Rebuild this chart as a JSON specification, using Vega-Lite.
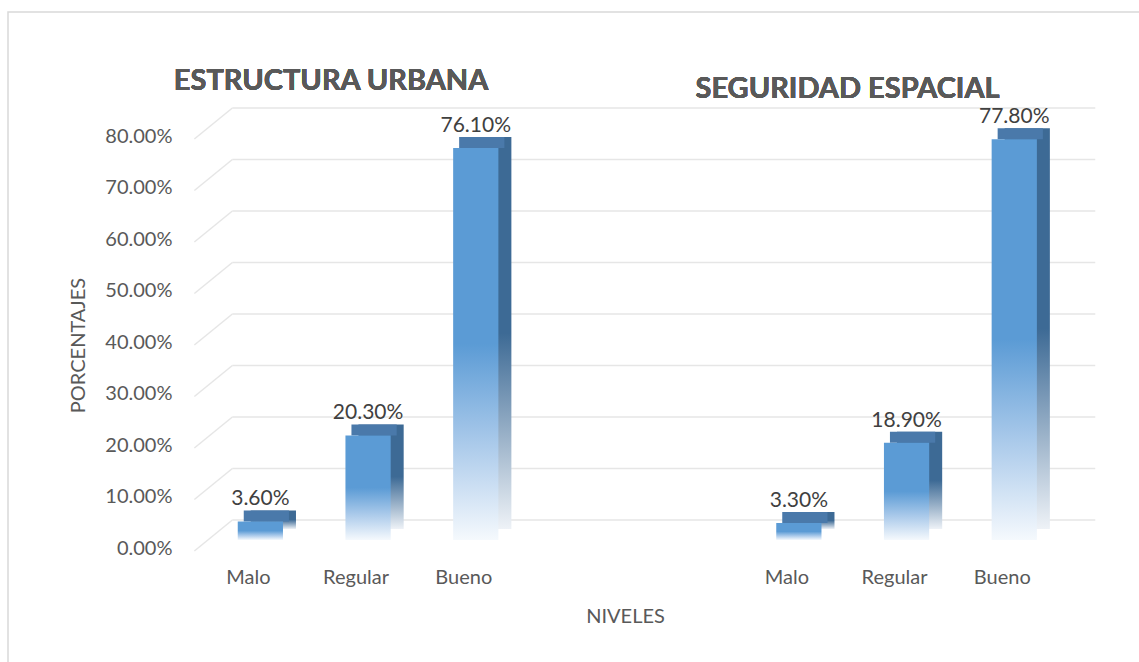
{
  "$schema": "https://vega.github.io/schema/vega-lite/v6.json",
  "width": 1200,
  "height": 700,
  "autosize": "none",
  "padding": {"left": 8, "top": 12, "right": 0, "bottom": 0},
  "background": "white",
  "config": {"font": "Lato", "view": {"stroke": "#D9D9D9", "strokeWidth": 1.5}},
  "data": {
    "values": [
      {"grupo": "ESTRUCTURA URBANA", "nivel": "Malo", "slot": "Malo|E", "v": 0.036},
      {"grupo": "ESTRUCTURA URBANA", "nivel": "Regular", "slot": "Regular|E", "v": 0.203},
      {"grupo": "ESTRUCTURA URBANA", "nivel": "Bueno", "slot": "Bueno|E", "v": 0.761},
      {"grupo": "SEGURIDAD ESPACIAL", "nivel": "Malo", "slot": "Malo|S", "v": 0.033},
      {"grupo": "SEGURIDAD ESPACIAL", "nivel": "Regular", "slot": "Regular|S", "v": 0.189},
      {"grupo": "SEGURIDAD ESPACIAL", "nivel": "Bueno", "slot": "Bueno|S", "v": 0.778}
    ]
  },
  "encoding": {
    "x": {
      "field": "slot",
      "type": "nominal",
      "sort": null,
      "scale": {
        "domain": ["Malo|E", "Regular|E", "Bueno|E", " |1", " |2", "Malo|S", "Regular|S", "Bueno|S"],
        "range": [224, 1087],
        "paddingInner": 0.58,
        "paddingOuter": 0.2965,
        "align": 0.09
      },
      "axis": {
        "title": "NIVELES",
        "offset": -192,
        "labelExpr": "split(datum.value, '|')[0]",
        "labelAngle": 0,
        "labelOffset": -12,
        "labelPadding": 47,
        "labelFontSize": 20,
        "labelColor": "#595959",
        "domain": false,
        "ticks": false,
        "grid": false,
        "titleFontSize": 20,
        "titleFontWeight": "normal",
        "titleColor": "#595959",
        "titleX": 617,
        "titleY": 96,
        "titleBaseline": "middle"
      }
    }
  },
  "layer": [
    {
      "data": {"values": [{"g": 0}, {"g": 0.1}, {"g": 0.2}, {"g": 0.3}, {"g": 0.4}, {"g": 0.5}, {"g": 0.6}, {"g": 0.7}, {"g": 0.8}]},
      "mark": {"type": "rule", "color": "#E6E6E6", "strokeWidth": 1.5, "xOffset": -28, "x2Offset": 81},
      "encoding": {
        "x": {"datum": "Malo|E", "type": "nominal"},
        "x2": {"datum": "Bueno|S"},
        "y": {"field": "g", "type": "quantitative"}
      }
    },
    {
      "data": {"values": [{"g": 0}, {"g": 0.1}, {"g": 0.2}, {"g": 0.3}, {"g": 0.4}, {"g": 0.5}, {"g": 0.6}, {"g": 0.7}, {"g": 0.8}]},
      "mark": {"type": "rule", "color": "#E6E6E6", "strokeWidth": 1.5, "xOffset": -66, "yOffset": 31, "x2Offset": -28, "y2Offset": 0},
      "encoding": {
        "x": {"datum": "Malo|E", "type": "nominal"},
        "x2": {"datum": "Malo|E"},
        "y": {"field": "g", "type": "quantitative"},
        "y2": {"field": "g"}
      }
    },
    {
      "mark": {
        "type": "bar",
        "xOffset": 13,
        "yOffset": 9,
        "y2Offset": 9,
        "color": {
          "gradient": "linear", "x1": 0, "y1": 0, "x2": 0, "y2": 1,
          "stops": [
            {"offset": 0, "color": "#3D6A95"},
            {"offset": 0.5, "color": "#3D6A95"},
            {"offset": 1, "color": "#EEF2F7"}
          ]
        }
      },
      "encoding": {
        "y": {
          "field": "v",
          "type": "quantitative",
          "scale": {"domain": [0, 0.8], "range": [508, 96]},
          "axis": {
            "title": "PORCENTAJES",
            "offset": -224,
            "format": ".2%",
            "values": [0, 0.1, 0.2, 0.3, 0.4, 0.5, 0.6, 0.7, 0.8],
            "domain": false,
            "ticks": false,
            "grid": false,
            "labelOffset": 28,
            "labelPadding": 60,
            "labelFontSize": 20,
            "labelColor": "#595959",
            "titleX": -154,
            "titleY": 333,
            "titleAngle": -90,
            "titleAlign": "center",
            "titleBaseline": "middle",
            "titleFontSize": 20,
            "titleFontWeight": "normal",
            "titleColor": "#595959"
          }
        },
        "y2": {"datum": 0}
      }
    },
    {
      "mark": {"type": "bar", "xOffset": 6, "yOffset": 9, "y2Offset": 20, "color": "#4A79AA"},
      "encoding": {
        "y": {"field": "v", "type": "quantitative"},
        "y2": {"field": "v"}
      }
    },
    {
      "mark": {
        "type": "bar",
        "yOffset": 20,
        "y2Offset": 20,
        "color": {
          "gradient": "linear", "x1": 0, "y1": 0, "x2": 0, "y2": 1,
          "stops": [
            {"offset": 0, "color": "#5B9BD5"},
            {"offset": 0.5, "color": "#5B9BD5"},
            {"offset": 0.75, "color": "#A9C9EA"},
            {"offset": 1, "color": "#F5F9FD"}
          ]
        }
      },
      "encoding": {
        "y": {"field": "v", "type": "quantitative"},
        "y2": {"datum": 0}
      }
    },
    {
      "mark": {"type": "text", "baseline": "middle", "dy": -2, "fontSize": 21, "color": "#404040"},
      "encoding": {
        "y": {"field": "v", "type": "quantitative"},
        "text": {"field": "v", "type": "quantitative", "format": ".2%"}
      }
    },
    {
      "mark": {"type": "text", "text": "ESTRUCTURA URBANA", "dx": -37, "baseline": "middle", "fontSize": 29, "fontWeight": "bold", "color": "#595959"},
      "encoding": {
        "x": {"datum": "Regular|E", "type": "nominal"},
        "y": {"datum": 0.852, "type": "quantitative"}
      }
    },
    {
      "mark": {"type": "text", "text": "SEGURIDAD ESPACIAL", "dx": -59, "baseline": "middle", "fontSize": 29, "fontWeight": "bold", "color": "#595959"},
      "encoding": {
        "x": {"datum": "Regular|S", "type": "nominal"},
        "y": {"datum": 0.837, "type": "quantitative"}
      }
    }
  ]
}
